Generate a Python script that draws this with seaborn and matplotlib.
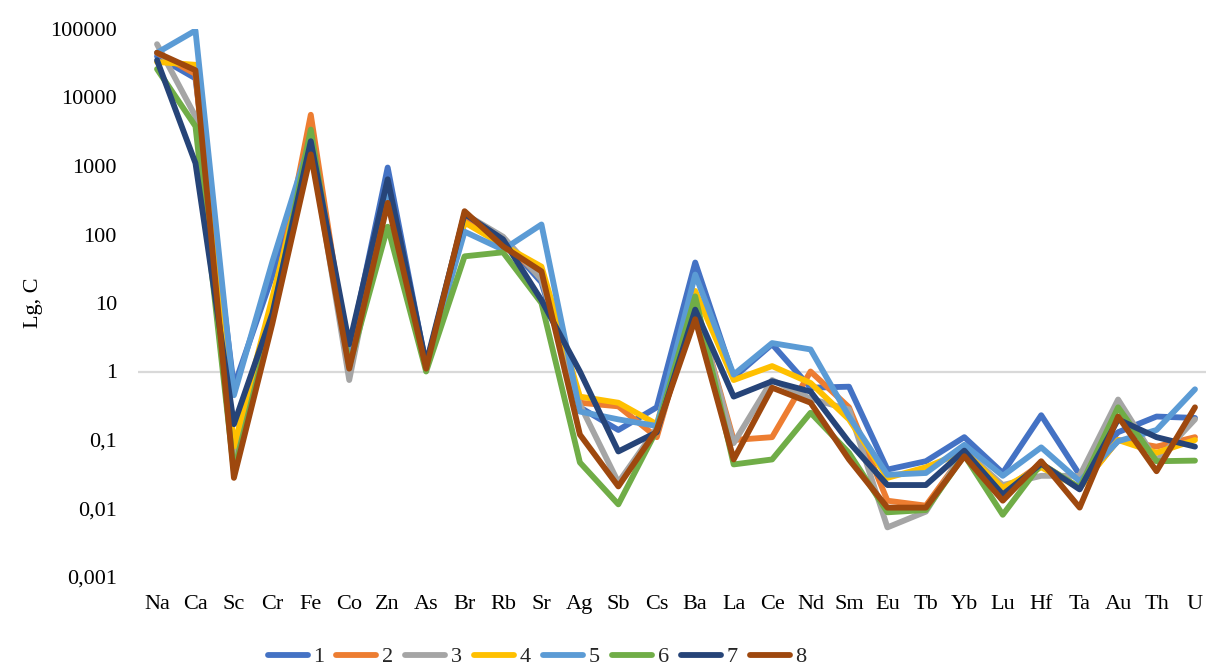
import matplotlib
matplotlib.use("Agg")
import matplotlib.pyplot as plt
import seaborn as sns
import pandas as pd
from matplotlib.ticker import FixedLocator, FixedFormatter

elements = ["Na", "Ca", "Sc", "Cr", "Fe", "Co", "Zn", "As", "Br", "Rb", "Sr", "Ag", "Sb", "Cs",
            "Ba", "La", "Ce", "Nd", "Sm", "Eu", "Tb", "Yb", "Lu", "Hf", "Ta", "Au", "Th", "U"]

s1 = [40000, 19000, 0.6, 25, 2200, 2.0, 950, 1.2, 150, 85, 20, 0.3, 0.14, 0.3,
      39, 0.82, 2.5, 0.58, 0.6, 0.037, 0.049, 0.11, 0.033, 0.23, 0.031, 0.13, 0.22, 0.21]
s2 = [45000, 22000, 0.05, 8, 5600, 1.3, 450, 1.2, 180, 75, 24, 0.35, 0.31, 0.11,
      10, 0.1, 0.11, 1.0, 0.3, 0.013, 0.011, 0.065, 0.018, 0.045, 0.02, 0.1, 0.08, 0.11]
s3 = [60000, 5300, 0.04, 8, 2000, 0.75, 450, 1.2, 200, 93, 22, 0.33, 0.024, 0.15,
      10, 0.09, 0.75, 0.4, 0.28, 0.0053, 0.009, 0.07, 0.022, 0.03, 0.03, 0.39, 0.05, 0.2]
s4 = [33000, 30000, 0.08, 12, 2000, 1.5, 450, 1.2, 150, 70, 34, 0.43, 0.35, 0.17,
      15, 0.75, 1.2, 0.68, 0.2, 0.028, 0.04, 0.068, 0.02, 0.04, 0.02, 0.1, 0.065, 0.1]
s5 = [45000, 95000, 0.45, 40, 2500, 1.5, 500, 1.2, 110, 60, 140, 0.26, 0.2, 0.16,
      26, 0.9, 2.6, 2.1, 0.22, 0.031, 0.033, 0.085, 0.03, 0.078, 0.025, 0.096, 0.14, 0.55]
s6 = [26000, 3800, 0.035, 6, 3400, 1.2, 130, 1.0, 48, 55, 10, 0.047, 0.0115, 0.14,
      12.5, 0.044, 0.052, 0.25, 0.065, 0.0088, 0.0095, 0.06, 0.0081, 0.045, 0.02, 0.3, 0.049, 0.05]
s7 = [35000, 1100, 0.17, 7, 2300, 2.5, 640, 1.3, 200, 85, 11, 1.0, 0.068, 0.13,
      8, 0.43, 0.72, 0.51, 0.093, 0.022, 0.022, 0.07, 0.016, 0.045, 0.019, 0.2, 0.11, 0.08]
s8 = [45000, 25000, 0.028, 5, 1480, 1.1, 290, 1.1, 219, 67, 29, 0.12, 0.021, 0.14,
      5.8, 0.052, 0.58, 0.35, 0.052, 0.0103, 0.0103, 0.058, 0.013, 0.049, 0.0103, 0.22, 0.035, 0.3]

series_names = ["1", "2", "3", "4", "5", "6", "7", "8"]
series_values = [s1, s2, s3, s4, s5, s6, s7, s8]
colors = ["#4472C4", "#ED7D31", "#A5A5A5", "#FFC000", "#5B9BD5", "#70AD47", "#264478", "#9E480E"]

ytick_vals = [0.001, 0.01, 0.1, 1, 10, 100, 1000, 10000, 100000]
ytick_labels = ["0,001", "0,01", "0,1", "1", "10", "100", "1000", "10000", "100000"]

rows = []
for name, vals in zip(series_names, series_values):
    for el, v in zip(elements, vals):
        rows.append({"Element": el, "Value": v, "Series": name})
df = pd.DataFrame(rows)

sns.set_theme(style="white")
plt.rcParams["font.family"] = ["Liberation Serif", "DejaVu Serif"]

fig = plt.figure(figsize=(12.06, 6.66), dpi=100)
ax = fig.add_axes([137.8 / 1206, 1 - 577 / 666, 1076.4 / 1206, 548 / 666])

sns.lineplot(data=df, x="Element", y="Value", hue="Series", palette=colors,
             sort=False, linewidth=4.2, legend=False, ax=ax, estimator=None)

ax.set_yscale("log")
ax.set_ylim(0.001, 100000)
ax.set_xlim(-0.5, len(elements) - 0.5)
ax.axhline(1, color="#D9D9D9", linewidth=1.6, zorder=0)

ax.yaxis.set_major_locator(FixedLocator(ytick_vals))
ax.yaxis.set_major_formatter(FixedFormatter(ytick_labels))
ax.yaxis.set_minor_locator(FixedLocator([]))
ax.tick_params(axis="y", length=0, pad=15, labelsize=16, labelcolor="#000000")
ax.tick_params(axis="x", length=0, pad=13, labelsize=16, labelcolor="#000000")

for sp in ax.spines.values():
    sp.set_visible(False)
ax.grid(False)

ax.set_xlabel("")
ax.set_ylabel("Lg, C", fontsize=16, color="#000000")
ax.yaxis.set_label_coords(-0.088, 0.5)

handles = ax.get_lines()[:8]
fig.legend(handles, series_names, loc="center", bbox_to_anchor=(537 / 1206, 1 - 657 / 666),
           ncol=8, frameon=False, fontsize=16, handlelength=1.8, handletextpad=0.25,
           columnspacing=0.55, borderaxespad=0)

fig.savefig("out.png", dpi=100)
